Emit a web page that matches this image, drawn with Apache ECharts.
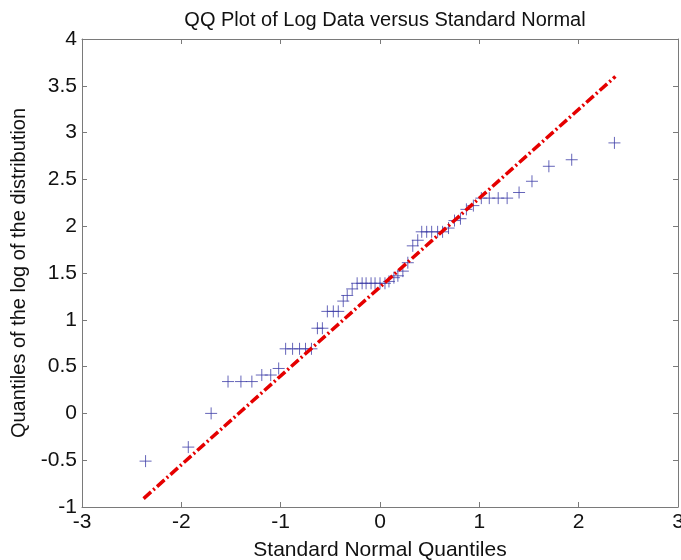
<!DOCTYPE html>
<html>
<head>
<meta charset="utf-8">
<script src="https://cdn.jsdelivr.net/npm/echarts@6/dist/echarts.min.js"></script>
<style>html,body{margin:0;padding:0;background:#fff}#c{width:681px;height:560px}</style>
</head>
<body>
<div id="c"></div>
<script>
// Standard normal quantiles (x) and sample quantiles (y)
const normalQuantiles = [-2.36,-1.93,-1.70,-1.53,-1.40,-1.29,-1.19,-1.10,-1.02,-0.95,-0.88,-0.81,-0.75,-0.69,-0.63,-0.58,-0.53,-0.47,-0.42,-0.37,-0.33,-0.28,-0.23,-0.18,-0.14,-0.09,-0.05,0.00,0.05,0.09,0.14,0.18,0.23,0.28,0.33,0.38,0.42,0.47,0.52,0.58,0.63,0.69,0.75,0.81,0.87,0.94,1.02,1.10,1.19,1.28,1.40,1.53,1.70,1.93,2.36];
const dataQuantiles = [-0.51,-0.36,0.00,0.34,0.34,0.34,0.41,0.41,0.48,0.69,0.69,0.69,0.69,0.69,0.91,0.91,1.09,1.09,1.09,1.20,1.26,1.33,1.39,1.39,1.39,1.39,1.39,1.39,1.39,1.41,1.45,1.47,1.52,1.61,1.79,1.85,1.94,1.94,1.94,1.94,1.94,1.98,2.06,2.08,2.18,2.22,2.30,2.30,2.30,2.30,2.36,2.48,2.64,2.71,2.89];
const refLineX = [-2.38, 2.37];
const refLineY = [-0.91, 3.60];
const xTicks = [-3,-2,-1,0,1,2,3];
const yTicks = [-1,-0.5,0,0.5,1,1.5,2,2.5,3,3.5,4];

const font = 'Liberation Sans, Arial, sans-serif';
const axisColor = '#7a7a7a';
const points = normalQuantiles.map((x,i)=>[x,dataQuantiles[i]]);
const linePts = refLineX.map((x,i)=>[x,refLineY[i]]);

const chart = echarts.init(document.getElementById('c'), null, {renderer:'canvas'});
const baseAxis = {
  axisLine:{show:true,onZero:false,lineStyle:{color:axisColor,width:1}},
  axisTick:{show:true,inside:true,length:5,lineStyle:{color:axisColor}},
  splitLine:{show:false}
};
chart.setOption({
  animation:false,
  backgroundColor:'#fff',
  title:{text:'QQ Plot of Log Data versus Standard Normal',left:380,textAlign:'center',top:5,
    textStyle:{fontFamily:font,fontSize:20,fontWeight:'normal',color:'#111'}},
  grid:{left:82,right:3,top:39,bottom:53,containLabel:false,outerBoundsMode:'none'},
  xAxis:[
    Object.assign({type:'value',position:'bottom',min:xTicks[0],max:xTicks[xTicks.length-1],interval:1,
      name:'Standard Normal Quantiles',nameLocation:'middle',nameGap:33,
      nameTextStyle:{fontFamily:font,fontSize:21,color:'#111'},
      axisLabel:{fontFamily:font,fontSize:21,color:'#111',margin:5}},baseAxis),
    Object.assign({type:'value',position:'top',min:xTicks[0],max:xTicks[xTicks.length-1],interval:1,
      axisLabel:{show:false}},baseAxis)
  ],
  yAxis:[
    Object.assign({type:'value',position:'left',min:yTicks[0],max:yTicks[yTicks.length-1],interval:0.5,
      name:'Quantiles of the log of the distribution',nameLocation:'middle',nameGap:50,
      nameTextStyle:{fontFamily:font,fontSize:20,color:'#111'},
      axisLabel:{fontFamily:font,fontSize:21,color:'#111',margin:5}},baseAxis),
    Object.assign({type:'value',position:'right',min:yTicks[0],max:yTicks[yTicks.length-1],interval:0.5,
      axisLabel:{show:false}},baseAxis)
  ],
  series:[
    {type:'scatter',data:points,symbol:'path://M0,-6L0,6M-6,0L6,0',symbolSize:12,
      itemStyle:{color:'rgba(0,0,0,0)',borderColor:'#3f3fa8',borderWidth:1},z:2},
    {type:'line',data:linePts,symbol:'none',z:3,
      lineStyle:{color:'#e50000',width:3.5,type:[10,3,2,3]}}
  ]
});
</script>
</body>
</html>
